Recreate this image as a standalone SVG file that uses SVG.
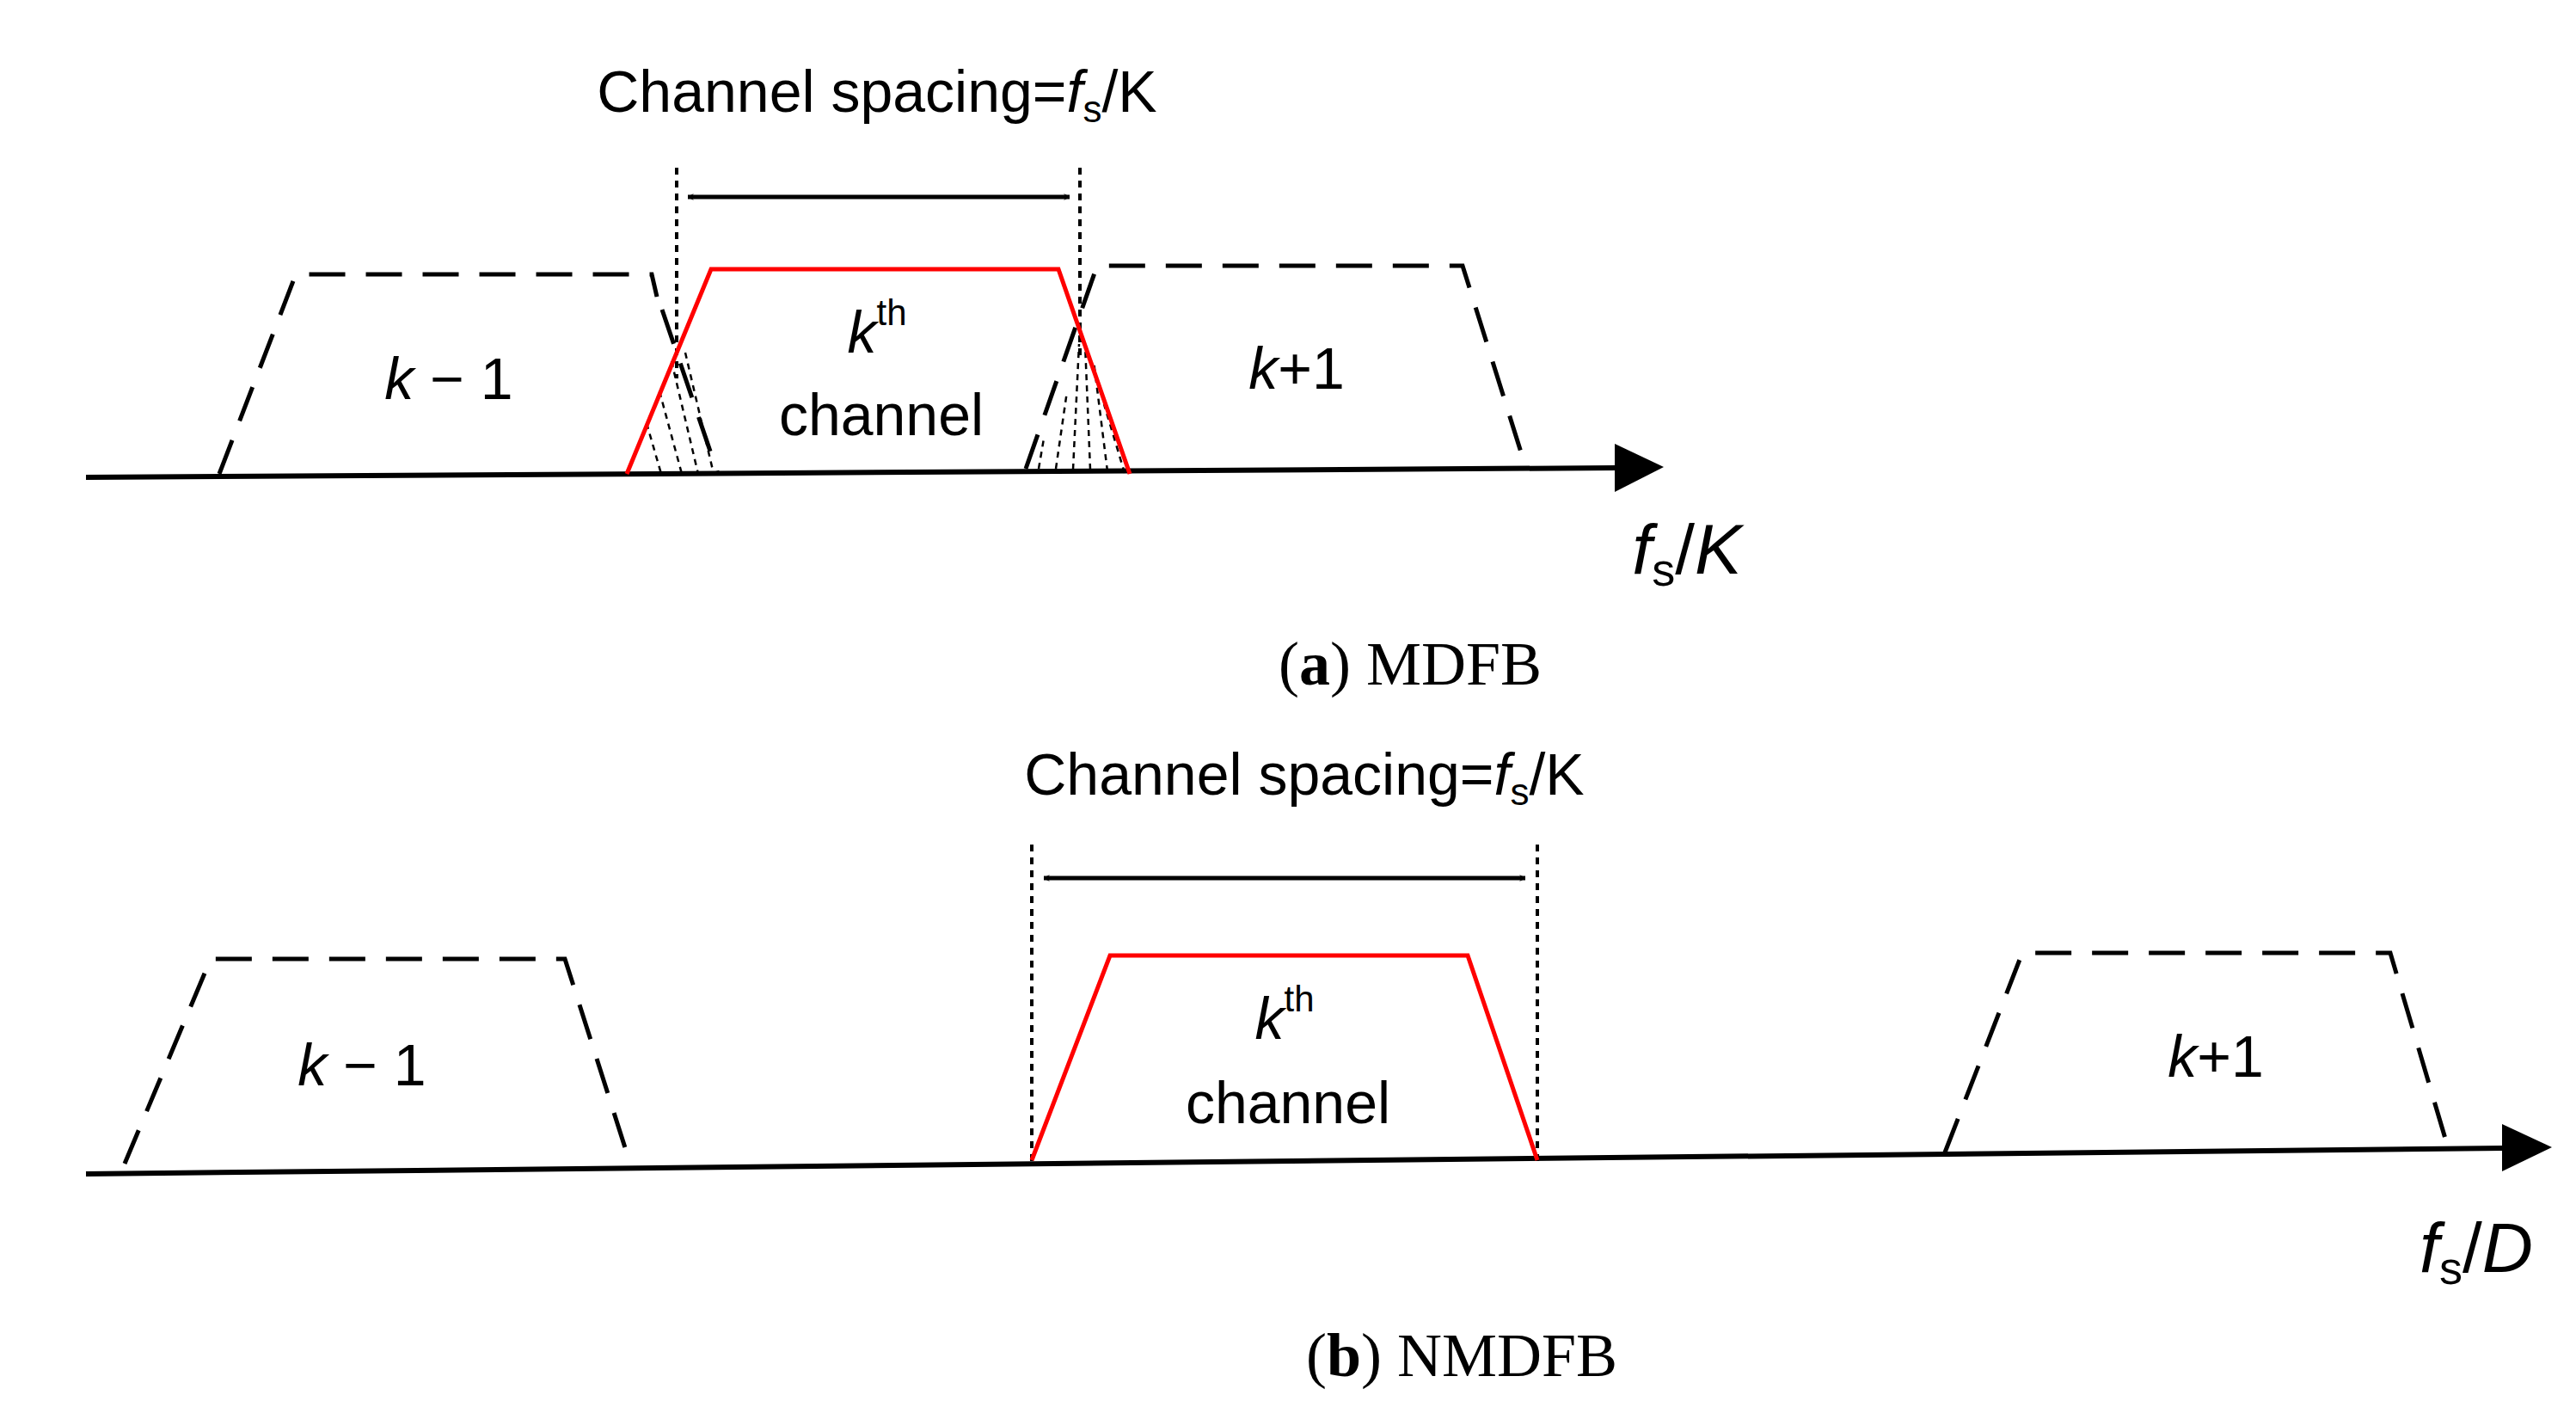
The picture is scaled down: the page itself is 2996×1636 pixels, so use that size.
<svg xmlns="http://www.w3.org/2000/svg" width="2996" height="1636" viewBox="0 0 2996 1636">
<style>
.t{font-family:"Liberation Sans",Arial,sans-serif;fill:#000}
.s{font-family:"Liberation Serif","Times New Roman",serif;fill:#000}
.dash{fill:none;stroke:#000;stroke-width:5;stroke-dasharray:42 24}
.dot{fill:none;stroke:#000;stroke-width:4;stroke-dasharray:8 7}
.hatch{fill:none;stroke:#000;stroke-width:2.5;stroke-dasharray:7 6}
.red{fill:none;stroke:#f00;stroke-width:5}
.ax{stroke:#000;stroke-width:6}
.dim{stroke:#000;stroke-width:5}
</style>
<defs>
<marker id="ah" viewBox="0 0 20 20" refX="18" refY="10" markerWidth="8" markerHeight="8" orient="auto-start-reverse" markerUnits="userSpaceOnUse"><path d="M2,2 L18,10 L2,18" fill="none" stroke="#000" stroke-width="2.5"/></marker>
</defs>
<rect width="2996" height="1636" fill="#fff"/>
<g id="connectors">
<line class="ax" x1="100" y1="555" x2="1880" y2="544"/>
<polygon points="1878,516 1935,543 1878,572" fill="#000"/>
<line class="ax" x1="100" y1="1365" x2="2912" y2="1335"/>
<polygon points="2910,1307 2968,1334 2910,1362" fill="#000"/>
<line class="dot" x1="787" y1="195" x2="787" y2="440"/>
<line class="dot" x1="1256" y1="195" x2="1256" y2="420"/>
<line class="dim" x1="800" y1="229" x2="1244" y2="229" marker-start="url(#ah)" marker-end="url(#ah)" style="stroke-width:5"/>
<line class="dot" x1="1200" y1="982" x2="1200" y2="1353"/>
<line class="dot" x1="1788" y1="982" x2="1788" y2="1353"/>
<line class="dim" x1="1214" y1="1021" x2="1774" y2="1021" marker-start="url(#ah)" marker-end="url(#ah)"/>
</g>
<g id="hatch-a">
<path class="hatch" d="M752,492 L769,551 M767,455 L793,551 M781,420 L812,551 M797,410 L830,551 M1208,545 L1214,510 M1228,545 L1241,455 M1248,546 L1255,400 M1268,546 L1262,400 M1288,548 L1272,420 M1308,550 L1284,470"/>
</g>
<g id="a-km1"><path class="dash" d="M255,551 L344,319 L758,319 L764,345 M770,360 L835,551"/><text class="t" x="522" y="464" font-size="68" text-anchor="middle"><tspan font-style="italic">k</tspan> − 1</text></g>
<g id="a-kp1"><path class="dash" d="M1193,545 L1276,309 L1701,309 L1775,545"/><text class="t" x="1508" y="452" font-size="68" text-anchor="middle"><tspan font-style="italic">k</tspan>+1</text></g>
<g id="a-k"><path class="red" d="M729,551 L827,313 L1231,313 L1314,551"/>
<text class="t" x="1020" y="410" font-size="68" text-anchor="middle"><tspan font-style="italic">k</tspan><tspan font-size="42" dy="-32">th</tspan></text>
<text class="t" x="1025" y="506" font-size="68" text-anchor="middle">channel</text></g>
<g id="a-labels">
<text class="t" x="1020" y="130" font-size="68" text-anchor="middle">Channel spacing=<tspan font-style="italic">f</tspan><tspan font-size="44" dy="12">s</tspan><tspan dy="-12">/K</tspan></text>
<text class="t" x="1962" y="667" font-size="82" text-anchor="middle"><tspan font-style="italic">f</tspan><tspan font-size="54" dy="14">s</tspan><tspan dy="-14">/</tspan><tspan font-style="italic">K</tspan></text>
<text class="s" x="1640" y="796" font-size="72" text-anchor="middle">(<tspan font-weight="bold">a</tspan>) MDFB</text>
</g>
<g id="b-km1"><path class="dash" d="M145,1353 L245,1115 L657,1115 L731,1347"/><text class="t" x="421" y="1262" font-size="68" text-anchor="middle"><tspan font-style="italic">k</tspan> − 1</text></g>
<g id="b-kp1"><path class="dash" d="M2262,1340 L2352,1108 L2780,1108 L2847,1334"/><text class="t" x="2577" y="1252" font-size="68" text-anchor="middle"><tspan font-style="italic">k</tspan>+1</text></g>
<g id="b-k"><path class="red" d="M1200,1349 L1291,1111 L1707,1111 L1788,1349"/>
<text class="t" x="1494" y="1208" font-size="68" text-anchor="middle"><tspan font-style="italic">k</tspan><tspan font-size="42" dy="-32">th</tspan></text>
<text class="t" x="1498" y="1306" font-size="68" text-anchor="middle">channel</text></g>
<g id="b-labels">
<text class="t" x="1517" y="924" font-size="68" text-anchor="middle">Channel spacing=<tspan font-style="italic">f</tspan><tspan font-size="44" dy="12">s</tspan><tspan dy="-12">/K</tspan></text>
<text class="t" x="2880" y="1479" font-size="82" text-anchor="middle"><tspan font-style="italic">f</tspan><tspan font-size="54" dy="14">s</tspan><tspan dy="-14">/</tspan><tspan font-style="italic">D</tspan></text>
<text class="s" x="1700" y="1600" font-size="72" text-anchor="middle">(<tspan font-weight="bold">b</tspan>) NMDFB</text>
</g>
</svg>
